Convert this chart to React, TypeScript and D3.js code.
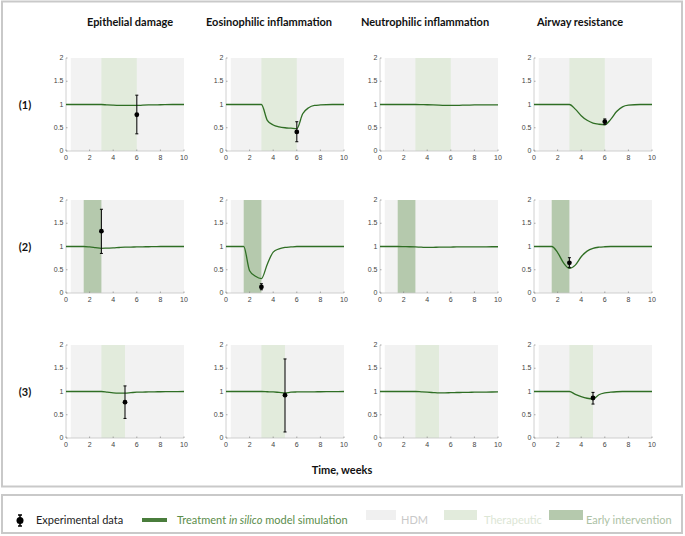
import React from 'react';
import * as d3 from 'd3';

// column titles and row labels
const titles = ['Epithelial damage', 'Eosinophilic inflammation', 'Neutrophilic inflammation', 'Airway resistance'];
const rowLabels = ['(1)', '(2)', '(3)'];

// treatment windows per row (weeks)
const windows: { start: number; end: number; kind: 'therapeutic' | 'early' }[] = [
  { start: 3, end: 6, kind: 'therapeutic' },
  { start: 1.5, end: 3, kind: 'early' },
  { start: 3, end: 5, kind: 'therapeutic' },
];
const hdmStart = 0.4;

// simulation time grid
const times = [0, 1.5, 2, 2.5, 3, 3.5, 4, 4.5, 5, 5.5, 6, 6.5, 7, 7.5, 8, 9, 10];

// simulated curves, [row][col]
const sim: number[][][] = [
  [
    [1, 1, 1, 1, 1, 0.99, 0.985, 0.982, 0.98, 0.98, 0.98, 0.985, 0.99, 0.993, 0.995, 1, 1],
    [1, 1, 1, 1, 1, 0.66, 0.56, 0.52, 0.5, 0.49, 0.48, 0.8, 0.93, 0.98, 0.99, 1, 1],
    [1, 1, 1, 1, 1, 0.998, 0.995, 0.99, 0.985, 0.982, 0.98, 0.982, 0.985, 0.988, 0.99, 0.99, 0.99],
    [1, 1, 1, 1, 1, 0.9, 0.76, 0.66, 0.6, 0.575, 0.565, 0.68, 0.85, 0.95, 0.985, 1, 1],
  ],
  [
    [1, 1, 0.99, 0.975, 0.96, 0.965, 0.97, 0.978, 0.985, 0.988, 0.99, 0.993, 0.995, 0.997, 1, 1, 1],
    [1, 1, 0.48, 0.36, 0.31, 0.62, 0.88, 0.95, 0.98, 0.99, 1, 1, 1, 1, 1, 1, 1],
    [1, 1, 0.998, 0.995, 0.99, 0.985, 0.98, 0.982, 0.985, 0.987, 0.988, 0.99, 0.99, 0.99, 0.992, 0.994, 0.995],
    [1, 1, 0.87, 0.65, 0.53, 0.6, 0.78, 0.9, 0.96, 0.985, 0.995, 1, 1, 1, 1, 1, 1],
  ],
  [
    [1, 1, 1, 1, 1, 0.985, 0.97, 0.965, 0.965, 0.975, 0.985, 0.988, 0.99, 0.993, 0.995, 0.998, 1],
    [1, 1, 1, 1, 1, 0.995, 0.99, 0.98, 0.97, 0.985, 0.99, 0.992, 0.993, 0.994, 0.995, 0.998, 1],
    [1, 1, 1, 1, 1, 0.993, 0.985, 0.977, 0.97, 0.97, 0.975, 0.978, 0.98, 0.983, 0.985, 0.988, 0.99],
    [1, 1, 1, 1, 1, 0.94, 0.89, 0.855, 0.84, 0.93, 0.97, 0.985, 0.995, 1, 1, 1, 1],
  ],
];

// experimental data [row][col]: time, mean, low, high (null = none)
const expData: ([number, number, number, number] | null)[][] = [
  [[6, 0.78, 0.37, 1.2], [6, 0.41, 0.2, 0.63], null, [6, 0.63, 0.57, 0.69]],
  [[3, 1.33, 0.85, 1.8], [3, 0.13, 0.07, 0.2], null, [3, 0.65, 0.55, 0.76]],
  [[5, 0.77, 0.42, 1.12], [5, 0.92, 0.13, 1.7], null, [5, 0.86, 0.73, 0.98]],
];

const xTicks = [0, 2, 4, 6, 8, 10];
const yTicks = [0, 0.5, 1, 1.5, 2];

const colLeft = [66, 226, 380, 534];
const rowTop = [58, 200, 345];
const panelW = 118;
const panelH = 93;
const titleX = [130, 269, 425, 580];

const HDM = '#f2f2f2';
const THER = '#e2ebdc';
const EARLY = '#b5c9ad';
const LINE = '#2f6e24';
const FONT = 'Lato, "Open Sans", sans-serif';
const TICKFONT = '"Liberation Sans", Arial, sans-serif';

function Panel({ r, c }: { r: number; c: number }) {
  const x0 = colLeft[c];
  const y0 = rowTop[r];
  const x = d3.scaleLinear().domain([0, 10]).range([x0, x0 + panelW]);
  const y = d3.scaleLinear().domain([0, 2]).range([y0 + panelH, y0]);
  const w = windows[r];
  const pts = times.map((t, i) => [t, sim[r][c][i]] as [number, number]);
  const line = d3
    .line<[number, number]>()
    .x(d => x(d[0]))
    .y(d => y(d[1]))
    .curve(d3.curveMonotoneX);
  const e = expData[r][c];
  return (
    <g>
      <rect x={x(hdmStart)} y={y(2)} width={x(10) - x(hdmStart)} height={y(0) - y(2)} fill={HDM} />
      <rect
        x={x(w.start)}
        y={y(2)}
        width={x(w.end) - x(w.start)}
        height={y(0) - y(2)}
        fill={w.kind === 'early' ? EARLY : THER}
      />
      {/* axes */}
      <line x1={x(0)} x2={x(0)} y1={y(0)} y2={y(2)} stroke="#c4c4c4" strokeWidth={0.8} />
      <line x1={x(0)} x2={x(10)} y1={y(0)} y2={y(0)} stroke="#c4c4c4" strokeWidth={0.8} />
      {yTicks.map(t => (
        <g key={'y' + t}>
          <line x1={x(0)} x2={x(0) + 1.5} y1={y(t)} y2={y(t)} stroke="#888" strokeWidth={0.7} />
          <text x={x(0) - 2.5} y={y(t)} dy="0.32em" textAnchor="end" fontSize={7} fill="#444" fontFamily={TICKFONT}>
            {t}
          </text>
        </g>
      ))}
      {xTicks.map(t => (
        <g key={'x' + t}>
          <line x1={x(t)} x2={x(t)} y1={y(0)} y2={y(0) - 1.5} stroke="#888" strokeWidth={0.7} />
          <text x={x(t)} y={y(0) + 8.5} textAnchor="middle" fontSize={7} fill="#444" fontFamily={TICKFONT}>
            {t}
          </text>
        </g>
      ))}
      <path d={line(pts) || ''} fill="none" stroke={LINE} strokeWidth={1.3} />
      {e && (
        <g stroke="#111" strokeWidth={1.1}>
          <line x1={x(e[0])} x2={x(e[0])} y1={y(e[2])} y2={y(e[3])} />
          <line x1={x(e[0]) - 1.5} x2={x(e[0]) + 1.5} y1={y(e[2])} y2={y(e[2])} />
          <line x1={x(e[0]) - 1.5} x2={x(e[0]) + 1.5} y1={y(e[3])} y2={y(e[3])} />
          <circle cx={x(e[0])} cy={y(e[1])} r={2.4} fill="#000" stroke="none" />
        </g>
      )}
    </g>
  );
}

export default function App() {
  return (
    <svg
      width={685}
      height={536}
      style={{ position: 'absolute', left: 0, top: 0, background: '#fff' }}
      fontFamily={FONT}
    >
      <rect x={2} y={1.5} width={680} height={485} fill="#fff" stroke="#c9c9c9" strokeWidth={2} />
      <rect x={2} y={495} width={680} height={38} fill="#fff" stroke="#c9c9c9" strokeWidth={2} />
      {titles.map((t, i) => (
        <text key={t} x={titleX[i]} y={26} textAnchor="middle" fontSize={11} fontWeight="bold" fill="#111">
          {t}
        </text>
      ))}
      {rowLabels.map((l, i) => (
        <text key={l} x={25} y={rowTop[i] + 51} textAnchor="middle" fontSize={11} fontWeight="bold" fill="#111">
          {l}
        </text>
      ))}
      {rowLabels.map((_, r) => titles.map((_, c) => <Panel key={r + '-' + c} r={r} c={c} />))}
      <text x={342} y={474} textAnchor="middle" fontSize={11} fontWeight="bold" fill="#111">
        Time, weeks
      </text>

      {/* legend */}
      <g>
        <line x1={20} x2={20} y1={515} y2={526} stroke="#000" strokeWidth={1.5} />
        <line x1={18} x2={22} y1={515} y2={515} stroke="#000" strokeWidth={1.5} />
        <line x1={18} x2={22} y1={526} y2={526} stroke="#000" strokeWidth={1.5} />
        <circle cx={20} cy={520.5} r={3.5} fill="#000" />
        <text x={36} y={524} fontSize={11} fill="#222">
          Experimental data
        </text>
        <line x1={142} x2={167} y1={520} y2={520} stroke="#4a7d3c" strokeWidth={4} />
        <text x={177} y={524} fontSize={11} fill="#5b8d4b">
          Treatment <tspan fontStyle="italic">in silico</tspan> model simulation
        </text>
        <rect x={366} y={510} width={30} height={10} fill="#f0f0f0" />
        <text x={401} y={524} fontSize={11} fill="#c9c9c9">
          HDM
        </text>
        <rect x={444} y={510} width={33} height={10} fill={THER} />
        <text x={484} y={524} fontSize={11} fill="#dce6d5">
          Therapeutic
        </text>
        <rect x={549} y={510} width={34} height={10} fill={EARLY} />
        <text x={586} y={524} fontSize={11} fill="#adc2a5">
          Early intervention
        </text>
      </g>
    </svg>
  );
}
